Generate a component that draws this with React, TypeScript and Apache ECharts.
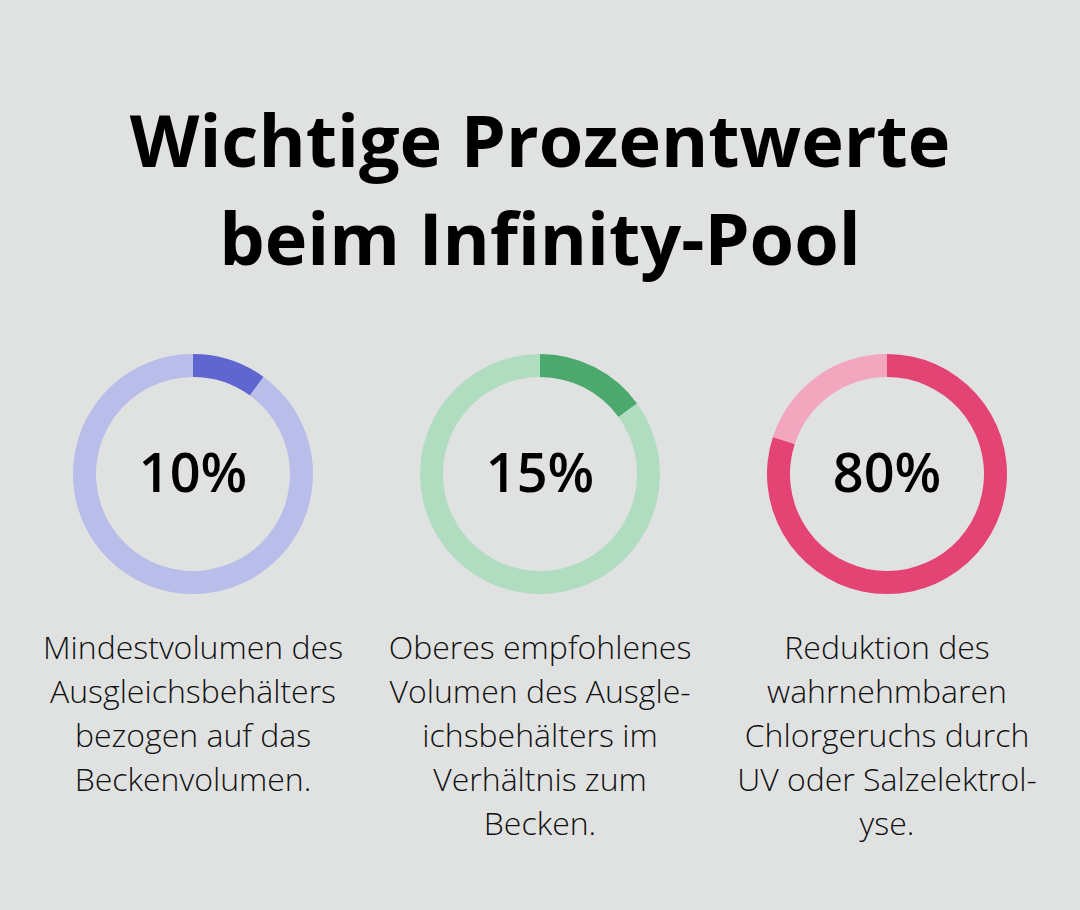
import React, { useEffect, useRef } from "react";
import * as echarts from "echarts";

const titleLines = ["Wichtige Prozentwerte", "beim Infinity-Pool"];
const percentValues = [10, 15, 80];
const percentLabels = ["10%", "15%", "80%"];
const descriptions = [
  ["Mindestvolumen des", "Ausgleichsbehälters", "bezogen auf das", "Beckenvolumen."],
  ["Oberes empfohlenes", "Volumen des Ausgle-", "ichsbehälters im", "Verhältnis zum", "Becken."],
  ["Reduktion des", "wahrnehmbaren", "Chlorgeruchs durch", "UV oder Salzelektrol-", "yse."],
];

const darkColors = ["#6066d0", "#4ba96e", "#e34474"];
const lightColors = ["#b9bde9", "#b0dcc0", "#f2a7bf"];
const centersX = [193, 540, 887];
const centerY = 474;
const FONT = "'Open Sans', 'Noto Sans', sans-serif";

export default function App() {
  const ref = useRef<HTMLDivElement>(null);
  useEffect(() => {
    if (!ref.current) return;
    const chart = echarts.init(ref.current, null, { renderer: "svg" });
    const series = percentValues.map((v, i) => ({
      type: "pie",
      radius: [97, 120],
      center: [centersX[i], centerY],
      startAngle: 90,
      clockwise: true,
      silent: true,
      label: { show: false },
      labelLine: { show: false },
      emphasis: { disabled: true },
      data: [
        { value: v, itemStyle: { color: darkColors[i] } },
        { value: 100 - v, itemStyle: { color: lightColors[i] } },
      ],
    }));
    const titleText = {
      type: "text",
      x: 540,
      y: 90,
      style: {
        text: titleLines.join("\n"),
        textAlign: "center",
        textVerticalAlign: "top",
        fontSize: 72,
        fontWeight: 700,
        fontFamily: FONT,
        lineHeight: 98,
        fill: "#000",
      },
    };
    const percentTexts = percentLabels.map((t, i) => ({
      type: "text",
      x: centersX[i],
      y: centerY - 3,
      style: {
        text: t,
        textAlign: "center",
        textVerticalAlign: "middle",
        fontSize: 54,
        fontWeight: 600,
        fontFamily: FONT,
        fill: "#000",
      },
    }));
    const descTexts = descriptions.map((lines, i) => ({
      type: "text",
      x: centersX[i],
      y: 624,
      style: {
        text: lines.join("\n"),
        textAlign: "center",
        textVerticalAlign: "top",
        fontSize: 32,
        fontWeight: 300,
        fontFamily: FONT,
        lineHeight: 44,
        fill: "#111",
      },
    }));
    chart.setOption({
      animation: false,
      backgroundColor: "#e0e2e1",
      graphic: [titleText, ...percentTexts, ...descTexts],
      series,
    });
    return () => chart.dispose();
  }, []);
  return (
    <div
      ref={ref}
      style={{ position: "fixed", left: 0, top: 0, width: 1080, height: 910 }}
    />
  );
}
